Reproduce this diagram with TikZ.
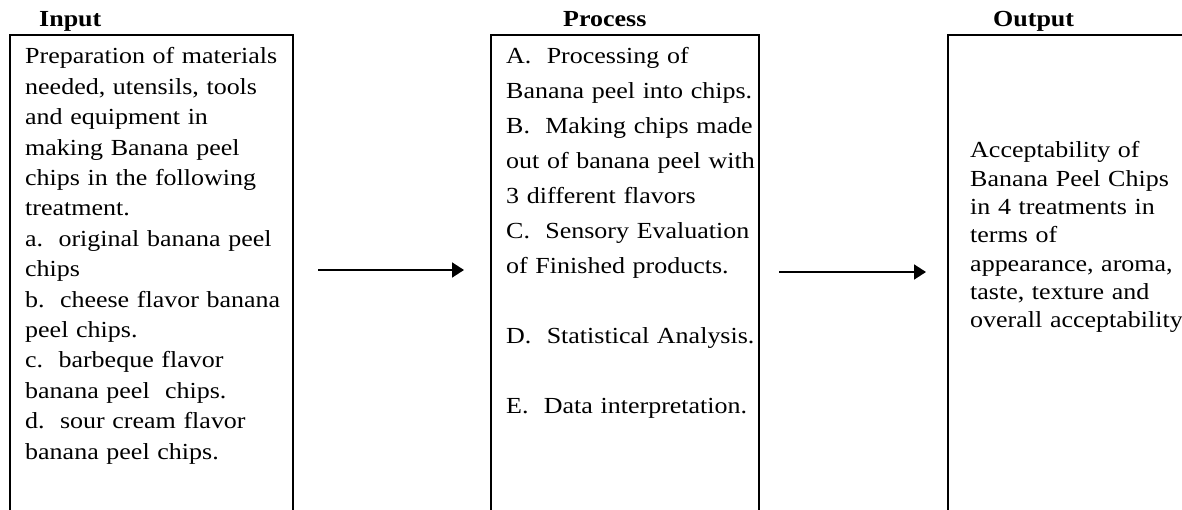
\documentclass[tikz,border=0pt]{standalone}
\usepackage{fontspec}
\setmainfont[FakeStretch=1.13]{Liberation Serif}
\usetikzlibrary{arrows.meta}

\begin{document}
\begin{tikzpicture}[x=1pt,y=-1pt]
\tikzset{
  frame/.style={line width=2pt, line join=miter},
  heading/.style={font=\fontsize{23}{26}\selectfont\bfseries, inner sep=0pt, anchor=base west},
  body/.style={font=\fontsize{23}{#1}\selectfont, inner sep=0pt, anchor=base west,
               align=left, text width=300pt},
  flow/.style={line width=1.8pt, -{Triangle[length=12pt,width=15pt]}}
}
\useasboundingbox (0,0) rectangle (1182,510);
\clip (0,0) rectangle (1182,510);

% column headings
\node[heading] (hin)   at (39,27)  {Input};
\node[heading] (hproc) at (563,27) {Process};
\node[heading] (hout)  at (993,27) {Output};

% frames, open at the bottom
\draw[frame] (9.5,520) -- (9.5,35) -- (293,35) -- (293,520);
\draw[frame] (491,520) -- (491,35) -- (758.5,35) -- (758.5,520);
\draw[frame] (948,520) -- (948,35) -- (1190,35);

% input column
\node[body=30.4] (input) at (25,64) {Preparation of materials\\
needed, utensils, tools\\
and equipment in\\
making Banana peel\\
chips in the following\\
treatment.\\
a.\ \ original banana peel\\
chips\\
b.\ \ cheese flavor banana\\
peel chips.\\
c.\ \ barbeque flavor\\
banana peel\ \ chips.\\
d.\ \ sour cream flavor\\
banana peel chips.};

% process column
\node[body=35] (process) at (506,64) {A.\ \ Processing of\\
Banana peel into chips.\\
B.\ \ Making chips made\\
out of banana peel with\\
3 different flavors\\
C.\ \ Sensory Evaluation\\
of Finished products.\\[35pt]
D.\ \ Statistical Analysis.\\[35pt]
E.\ \ Data interpretation.};

% output column
\node[body=28.3] (output) at (970,158) {Acceptability of\\
Banana Peel Chips\\
in 4 treatments in\\
terms of\\
appearance, aroma,\\
taste, texture and\\
overall acceptability};

% flow arrows between the columns
\coordinate (a1s) at (318,270);
\coordinate (a1e) at (464,270);
\coordinate (a2s) at (779,272);
\coordinate (a2e) at (926,272);
\draw[flow] (a1s) -- (a1e);
\draw[flow] (a2s) -- (a2e);
\end{tikzpicture}
\end{document}
